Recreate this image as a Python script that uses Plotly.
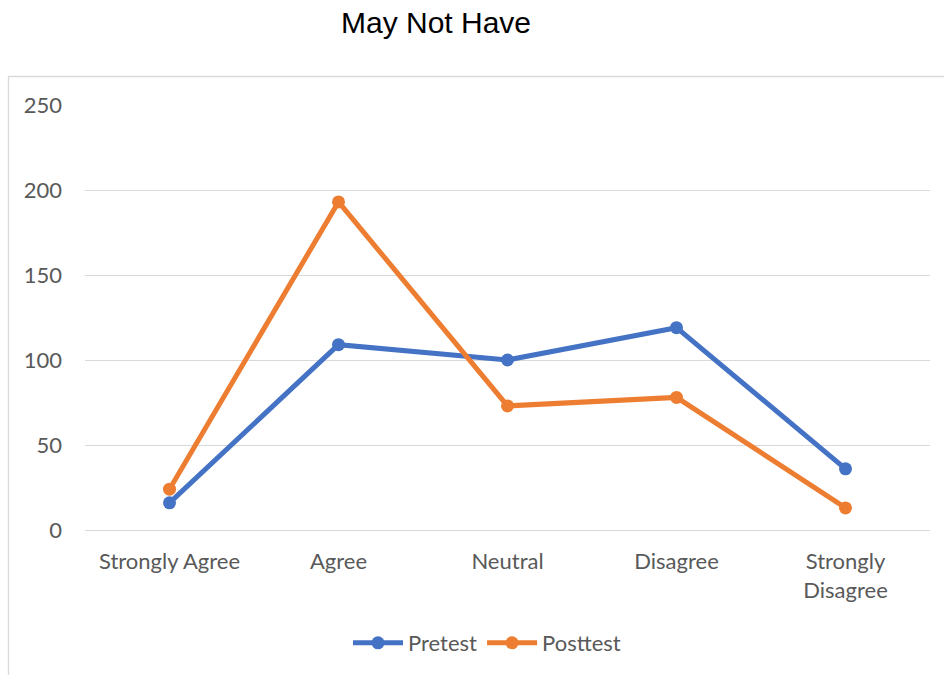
import plotly.graph_objects as go

# Survey responses by agreement level
categories = ["Strongly Agree", "Agree", "Neutral", "Disagree", "Strongly<br>Disagree"]
pretest = [16, 109, 100, 119, 36]
posttest = [24, 193, 73, 78, 13]
y_ticks = [0, 50, 100, 150, 200, 250]

BLUE = "#4472C4"
ORANGE = "#ED7D31"
GRID = "#D9D9D9"
TEXT = "#595959"

W, H = 944, 675
L, R, T, B = 85, 14, 105, 145

fig = go.Figure()
fig.add_trace(go.Scatter(
    x=categories, y=pretest, name="Pretest", mode="lines+markers",
    line=dict(color=BLUE, width=5), marker=dict(color=BLUE, size=13),
))
fig.add_trace(go.Scatter(
    x=categories, y=posttest, name="Posttest", mode="lines+markers",
    line=dict(color=ORANGE, width=5), marker=dict(color=ORANGE, size=13),
))

# Light chart-area frame around the plot
pw, ph = W - L - R, H - T - B
fig.add_shape(
    type="rect", xref="paper", yref="paper",
    x0=(8.5 - L) / pw, x1=(W + 20 - L) / pw,
    y0=-(H + 20 - (H - B)) / ph, y1=((H - B) - 76.5) / ph,
    line=dict(color=GRID, width=1.3), fillcolor="rgba(0,0,0,0)", layer="below",
)

fig.update_layout(
    width=W, height=H,
    margin=dict(l=L, r=R, t=T, b=B),
    paper_bgcolor="white", plot_bgcolor="white",
    title=dict(
        text="May Not Have", x=436 / W, xref="container", xanchor="center",
        y=1 - 22 / H, yref="container", yanchor="middle",
        font=dict(family="Liberation Sans, Arial", size=30, color="#000000"),
    ),
    font=dict(family="Lato", size=22, color=TEXT),
    xaxis=dict(
        type="category", range=[-0.5, 4.5], showgrid=False, zeroline=False,
        showline=False, ticks="", ticklabelstandoff=16,
        tickfont=dict(family="Lato", size=22, color=TEXT),
    ),
    yaxis=dict(
        range=[0, 250], tickvals=y_ticks, showgrid=True, gridcolor=GRID,
        gridwidth=1.3, zeroline=True, zerolinecolor=GRID, zerolinewidth=1.3,
        showline=False, ticks="", ticklabelstandoff=22,
        tickfont=dict(family="Lato", size=22, color=TEXT),
    ),
    legend=dict(
        orientation="h", x=487 / W, xref="container", xanchor="center",
        y=1 - 643 / H, yref="container", yanchor="middle",
        font=dict(family="Lato", size=22, color=TEXT),
        itemwidth=50, bgcolor="rgba(0,0,0,0)",
    ),
    showlegend=True,
)

fig.write_html("out.html")
